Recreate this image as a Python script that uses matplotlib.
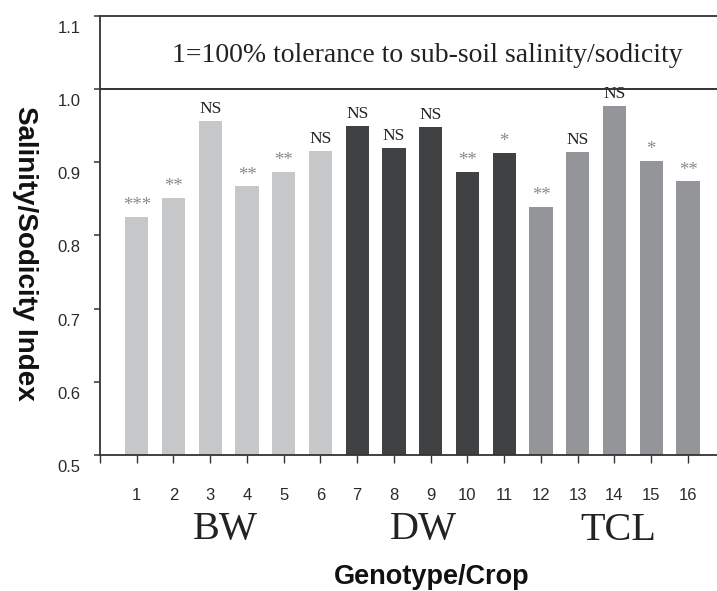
import matplotlib
matplotlib.use("Agg")
import matplotlib.pyplot as plt
from matplotlib.transforms import ScaledTranslation, blended_transform_factory

# --- data ---
genotypes = list(range(1, 17))
index_values = [0.825, 0.851, 0.956, 0.867, 0.887, 0.915,
                0.949, 0.919, 0.948, 0.887, 0.913,
                0.839, 0.914, 0.977, 0.902, 0.874]
signif = ['***', '**', 'NS', '**', '**', 'NS',
          'NS', 'NS', 'NS', '**', '*',
          '**', 'NS', 'NS', '*', '**']
crops = ['BW', 'DW', 'TCL']
crop_of = ['BW'] * 6 + ['DW'] * 5 + ['TCL'] * 5
crop_colors = {'BW': '#c6c7c9', 'DW': '#404143', 'TCL': '#939598'}
note = '1=100% tolerance to sub-soil salinity/sodicity'

sans = ['Liberation Sans', 'DejaVu Sans']
serif = ['Liberation Serif', 'DejaVu Serif']
ink = '#2a2a2a'

fig = plt.figure(figsize=(7.17, 5.91), dpi=100)
ax = fig.add_axes([100 / 717, 136 / 591, 617 / 717, 439 / 591])

colors = [crop_colors[c] for c in crop_of]
ax.bar(genotypes, [v - 0.5 for v in index_values], bottom=0.5,
       width=0.63, color=colors, zorder=2)

for g, v, s in zip(genotypes, index_values, signif):
    is_ns = s == 'NS'
    ax.annotate(s, (g, v), xytext=(0, 3 if is_ns else 2), textcoords='offset points',
                ha='center', va='bottom', family=serif,
                fontsize=12.5 if is_ns else 13.5,
                color='#222222' if is_ns else '#8a8a8a')

ax.axhline(1.0, color='#333333', lw=1.4, zorder=3)
ax.text(8.9, 1.046, note, ha='center', va='center', family=serif,
        fontsize=20, color='#222222')

ax.set_xlim(0, 16.79)
ax.set_ylim(0.5, 1.1)
ax.set_yticks([0.5, 0.6, 0.7, 0.8, 0.9, 1.0, 1.1])
ax.set_yticklabels(['0.5', '0.6', '0.7', '0.8', '0.9', '1.0', '1.1'])
ax.set_xticks(range(0, 17))
ax.set_xticklabels([''] + [str(g) for g in genotypes])

for sp in ['left', 'bottom', 'top']:
    ax.spines[sp].set_color('#333333')
    ax.spines[sp].set_linewidth(1.3)
ax.spines['right'].set_visible(False)

ax.tick_params(axis='y', direction='out', length=4, width=1.1, color='#333333',
               pad=10, labelsize=12, labelcolor=ink)
ax.tick_params(axis='x', direction='out', length=6, width=1.0, color='#333333',
               pad=18, labelsize=12, labelcolor=ink)
for lab in ax.get_yticklabels() + ax.get_xticklabels():
    lab.set_family(sans)
for lab in ax.get_yticklabels():
    lab.set_transform(lab.get_transform() + ScaledTranslation(0, -0.11, fig.dpi_scale_trans))

# crop group labels below the numbers
trans = blended_transform_factory(ax.transData, fig.transFigure)
group_x = {'BW': 3.4, 'DW': 8.8, 'TCL': 14.1}
for c in crops:
    ax.text(group_x[c], 1 - 530 / 591, c, transform=trans, ha='center', va='center',
            family=serif, fontsize=29, color='#222222')

fig.text(432 / 717, 1 - 577 / 591, 'Genotype/Crop', ha='center', va='center',
         family=sans, fontsize=19.5, fontweight='bold', color='#111111')
fig.text(25 / 717, 1 - 253 / 591, 'Salinity/Sodicity Index', ha='center', va='center',
         rotation=270, family=sans, fontsize=20, fontweight='bold', color='#111111')

fig.savefig('out.png', dpi=100)
